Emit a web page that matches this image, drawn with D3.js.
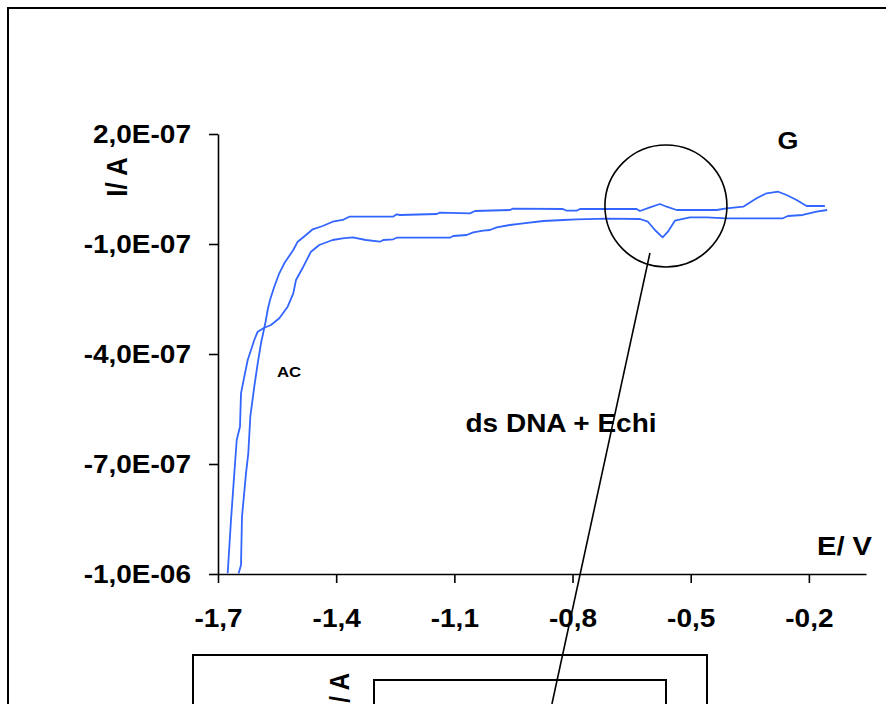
<!DOCTYPE html>
<html>
<head>
<meta charset="utf-8">
<script src="https://cdn.jsdelivr.net/npm/d3@7/dist/d3.min.js"></script>
<style>
  html, body { margin: 0; padding: 0; background: #fff; }
  svg { display: block; }
  text { font-family: "Liberation Sans", Arial, sans-serif; font-weight: bold; fill: #000; }
</style>
</head>
<body>
<svg id="chart" width="886" height="704"></svg>
<script>
// ---- data (E in V, I in nA) ----
const sweepA_E = [-1.6475,-1.6416,-1.6391,-1.6289,-1.6231,-1.6180,-1.6079,-1.5992,-1.5909,-1.5799,-1.5739,-1.5680,-1.5571,-1.5444,-1.5317,-1.5089,-1.4977,-1.4766,-1.4596,-1.4343,-1.4089,-1.3835,-1.3668,-1.3244,-1.2558,-1.2464,-1.2381,-1.1449,-1.1365,-1.0604,-1.0477,-0.9589,-0.9513,-0.8244,-0.8150,-0.7896,-0.7812,-0.7135,-0.6373,-0.6289,-0.6036,-0.5782,-0.5612,-0.5358,-0.4343,-0.4089,-0.3667,-0.3327,-0.3074,-0.2779,-0.2566,-0.2312,-0.2058,-0.1594];
const sweepA_I = [-998,-975.5,-843.7,-725.4,-670.8,-571,-489.2,-425.4,-370.8,-316.3,-280,-252.7,-216.5,-179.9,-152.6,-116.4,-93.7,-75.5,-59.9,-50.9,-39.2,-34.5,-25.5,-25.5,-25.5,-19,-20.9,-18.2,-14.6,-16.3,-10,-7.3,-3.7,-4.5,-9.2,-9.2,-4.5,-4.5,-4.5,-10,0.1,9.1,1.7,-7.3,-7.3,-2.6,1.7,24.6,38.3,42.6,33.6,20,3.6,3.6];

const sweepB_E = [-1.6754,-1.6670,-1.6586,-1.6525,-1.6442,-1.6416,-1.6332,-1.6246,-1.6162,-1.6079,-1.5992,-1.5825,-1.5655,-1.5444,-1.5231,-1.5089,-1.5020,-1.4835,-1.4640,-1.4429,-1.4089,-1.3835,-1.3581,-1.3244,-1.2888,-1.2805,-1.2551,-1.2464,-1.1112,-1.1028,-1.0688,-1.0520,-1.0266,-1.0096,-0.9926,-0.9589,-0.9251,-0.8744,-0.8236,-0.7896,-0.7135,-0.6289,-0.6086,-0.5909,-0.5713,-0.5579,-0.5401,-0.5020,-0.4596,-0.4089,-0.2660,-0.2533,-0.2157,-0.1805,-0.1536];
const sweepB_I = [-998,-852.7,-725.4,-634.5,-598.3,-507.2,-461.9,-416.4,-389.1,-361.8,-339.2,-328.3,-320.9,-302.6,-271,-234.5,-198.2,-161.9,-121,-102.7,-89.1,-84.5,-81.7,-89.1,-93.7,-89.1,-87.2,-82.8,-82.8,-78.2,-75.5,-68.1,-63.7,-61.8,-54.5,-48.2,-43.5,-37.3,-34.5,-32.6,-31,-31.8,-39.2,-61.8,-81.7,-66.5,-36.5,-27.2,-27.2,-29.9,-29.9,-23.6,-20.9,-11.9,-7.3];

const xTickValues = [-1.7, -1.4, -1.1, -0.8, -0.5, -0.2];
const xTickLabels = ["-1,7", "-1,4", "-1,1", "-0,8", "-0,5", "-0,2"];
const yTickValues = [200, -100, -400, -700, -1000];
const yTickLabels = ["2,0E-07", "-1,0E-07", "-4,0E-07", "-7,0E-07", "-1,0E-06"];

// annotation anchors (data units)
const circleCenter = [-0.5629, 3.6];
const pointerLine = [[-0.6035, -124.5], [-0.8523, -1354.5]];

// ---- drawing ----
const svg = d3.select("#chart");
const SX = 1.12; // horizontal stretch of the original lettering
const blue = "#3366FF";

const x = d3.scaleLinear().domain([-1.7, -0.055]).range([218, 866]);
const y = d3.scaleLinear().domain([-1000, 200]).range([574, 134]);

// outer frame
svg.append("rect").attr("x", 8).attr("y", 8).attr("width", 900).attr("height", 800)
  .attr("fill", "none").attr("stroke", "#000").attr("stroke-width", 2);

// axes
const xAxis = d3.axisBottom(x).tickValues(xTickValues)
  .tickFormat((d, i) => xTickLabels[i]).tickSize(9).tickSizeOuter(0);
const gx = svg.append("g").attr("transform", `translate(0,${y(-1000)})`).call(xAxis);
gx.selectAll("text").attr("y", null).attr("dy", null)
  .attr("transform", `translate(0,53) scale(${SX},1)`)
  .style("font-size", "25px").style("font-family", "Liberation Sans, Arial, sans-serif").style("font-weight", "bold");

const yAxis = d3.axisLeft(y).tickValues(yTickValues)
  .tickFormat((d, i) => yTickLabels[i]).tickSize(9).tickSizeOuter(0);
const gy = svg.append("g").attr("transform", `translate(${x(-1.7)},0)`).call(yAxis);
gy.selectAll("text").attr("x", null).attr("dy", "0.35em")
  .attr("transform", `translate(-27,0) scale(${SX},1)`)
  .style("font-size", "25px").style("font-family", "Liberation Sans, Arial, sans-serif").style("font-weight", "bold");

svg.selectAll(".domain, .tick line").attr("stroke", "#000").attr("stroke-width", 1.6);

// curves
const line = d3.line().x(d => x(d[0])).y(d => y(d[1]));
const seriesA = sweepA_E.map((e, i) => [e, sweepA_I[i]]);
const seriesB = sweepB_E.map((e, i) => [e, sweepB_I[i]]);
[seriesA, seriesB].forEach(s => {
  svg.append("path").datum(s).attr("d", line)
    .attr("fill", "none").attr("stroke", blue).attr("stroke-width", 1.8)
    .attr("stroke-linejoin", "round");
});

// annotations
svg.append("circle").attr("cx", x(circleCenter[0])).attr("cy", y(circleCenter[1])).attr("r", 61)
  .attr("fill", "none").attr("stroke", "#000").attr("stroke-width", 1.6);
svg.append("line")
  .attr("x1", x(pointerLine[0][0])).attr("y1", y(pointerLine[0][1]))
  .attr("x2", x(pointerLine[1][0])).attr("y2", y(pointerLine[1][1]))
  .attr("stroke", "#000").attr("stroke-width", 1.6);

function label(txt, tx, ty, size, anchor, extra) {
  return svg.append("text").text(txt)
    .attr("transform", `translate(${tx},${ty}) scale(${SX},1)` + (extra || ""))
    .attr("text-anchor", anchor).style("font-size", size + "px");
}
label("I/ A", 117, 177, 26, "middle", " rotate(-90)").attr("dy", "0.35em");
label("E/ V", 872, 555, 26, "end");
label("G", 788, 149, 24, "middle");
label("AC", 289, 377, 15, "middle");
label("ds DNA + Echi", 561, 432, 25, "middle");

// inset chart (cut off at the bottom of the picture)
svg.append("rect").attr("x", 193).attr("y", 655).attr("width", 514).attr("height", 120)
  .attr("fill", "none").attr("stroke", "#000").attr("stroke-width", 2);
svg.append("rect").attr("x", 374).attr("y", 680).attr("width", 292).attr("height", 120)
  .attr("fill", "none").attr("stroke", "#000").attr("stroke-width", 2);
label("I/ A", 340, 673, 24, "end", " rotate(-90)").attr("dy", "0.35em");
</script>
</body>
</html>
